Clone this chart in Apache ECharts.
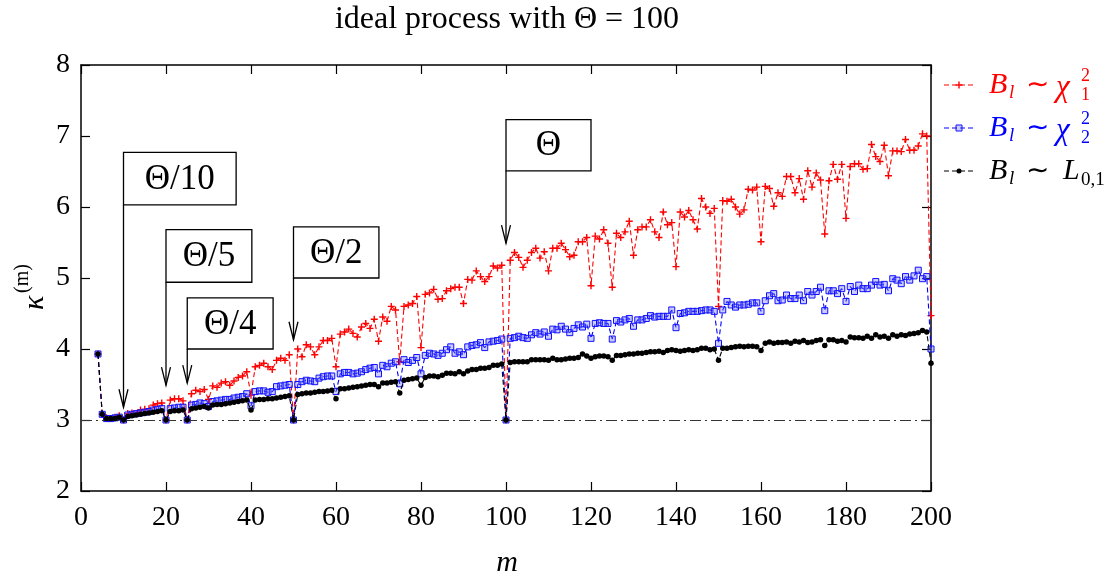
<!DOCTYPE html>
<html><head><meta charset="utf-8">
<script src="https://cdn.jsdelivr.net/npm/echarts@6/dist/echarts.min.js"></script>
<style>html,body{margin:0;padding:0;background:#fff}#c{width:1120px;height:582px}</style>
</head><body><div id="c"></div>
<script>
// m runs from 4 to 200
const M_START = 4;
const redVals = [
3.93,3.08,3.03,3.02,3.04,3.06,3.00,3.09,3.10,3.09,3.14,3.15,3.16,3.21,3.23,3.24,3.00,
3.28,3.30,3.30,3.27,3.00,3.37,3.42,3.40,3.43,3.29,3.48,3.46,3.52,3.54,3.49,3.55,3.60,3.62,3.68,3.35,
3.75,3.77,3.80,3.75,3.71,3.84,3.87,3.84,3.92,3.00,
4.00,3.89,4.06,4.03,3.92,4.03,4.12,4.12,4.15,3.75,
4.21,4.24,4.28,4.22,4.17,4.31,4.36,4.29,4.42,4.11,
4.45,4.39,4.60,4.55,3.82,4.60,4.62,4.64,4.74,4.02,
4.77,4.79,4.84,4.70,4.71,4.82,4.85,4.87,4.87,4.64,
4.98,4.97,5.10,5.02,4.95,5.02,5.17,5.14,5.18,3.00,
5.25,5.36,5.29,5.15,5.25,5.36,5.42,5.28,5.37,5.10,
5.42,5.42,5.49,5.40,5.30,5.32,5.51,5.51,5.57,4.89,
5.59,5.55,5.68,5.49,4.87,5.63,5.57,5.65,5.80,5.32,
5.68,5.72,5.72,5.82,5.65,5.57,5.93,5.75,5.78,5.16,
5.93,5.86,5.95,5.82,5.69,6.12,6.00,5.91,5.98,4.60,
6.09,6.08,6.11,6.00,5.90,5.96,6.25,6.24,6.28,5.51,
6.29,6.26,6.01,6.20,6.15,6.43,6.43,6.20,6.40,6.11,
6.51,6.28,6.48,6.38,5.62,6.37,6.60,6.39,6.60,5.84,
6.57,6.61,6.61,6.53,6.54,6.88,6.71,6.64,6.87,6.44,
6.79,6.79,6.78,6.95,6.80,6.80,6.86,7.03,7.00,4.47
];
const blueVals = [
3.93,3.08,3.02,3.02,3.03,3.04,3.00,3.07,3.08,3.09,3.10,3.11,3.12,3.14,3.15,3.16,3.00,
3.16,3.17,3.18,3.18,3.00,3.21,3.22,3.24,3.23,3.19,3.26,3.27,3.28,3.29,3.29,3.31,3.32,3.33,3.37,3.20,
3.40,3.41,3.41,3.39,3.40,3.47,3.48,3.49,3.50,3.00,
3.50,3.54,3.56,3.55,3.54,3.59,3.61,3.62,3.62,3.40,
3.65,3.67,3.67,3.65,3.66,3.68,3.71,3.73,3.74,3.65,
3.77,3.75,3.80,3.82,3.51,3.85,3.81,3.84,3.88,3.65,
3.91,3.94,3.93,3.91,3.94,3.99,4.03,3.94,3.96,3.92,
4.03,4.05,4.06,4.09,4.02,4.10,4.11,4.12,4.14,3.00,
4.15,4.16,4.18,4.16,4.15,4.20,4.23,4.21,4.24,4.18,
4.28,4.27,4.32,4.28,4.23,4.29,4.34,4.31,4.35,4.15,
4.36,4.37,4.36,4.36,4.14,4.40,4.38,4.41,4.43,4.32,
4.41,4.41,4.43,4.47,4.45,4.46,4.46,4.46,4.55,4.30,
4.50,4.51,4.53,4.53,4.53,4.54,4.55,4.55,4.53,4.08,
4.55,4.67,4.62,4.59,4.62,4.62,4.63,4.65,4.65,4.53,
4.68,4.75,4.78,4.68,4.69,4.76,4.71,4.71,4.76,4.68,
4.81,4.76,4.81,4.87,4.54,4.82,4.82,4.78,4.85,4.67,
4.88,4.81,4.90,4.85,4.85,4.90,4.95,4.90,4.91,4.82,
4.99,4.97,4.92,5.02,4.97,5.03,5.11,4.99,5.02,4.00
];
const blackVals = [
3.93,3.08,3.02,3.02,3.02,3.04,3.00,3.05,3.06,3.07,3.08,3.09,3.10,3.11,3.12,3.13,3.00,
3.12,3.13,3.13,3.14,3.00,3.16,3.17,3.18,3.19,3.17,3.21,3.22,3.22,3.23,3.24,3.25,3.26,3.27,3.28,3.14,
3.28,3.29,3.29,3.30,3.30,3.31,3.32,3.33,3.34,3.00,
3.36,3.37,3.38,3.38,3.39,3.40,3.40,3.41,3.42,3.30,
3.44,3.44,3.45,3.46,3.47,3.48,3.49,3.50,3.50,3.47,
3.52,3.52,3.53,3.54,3.38,3.56,3.57,3.58,3.59,3.49,
3.60,3.62,3.62,3.61,3.63,3.66,3.66,3.65,3.68,3.65,
3.69,3.71,3.71,3.73,3.73,3.74,3.77,3.77,3.79,3.00,
3.81,3.82,3.82,3.82,3.82,3.85,3.85,3.85,3.85,3.84,
3.87,3.85,3.85,3.86,3.87,3.87,3.88,3.93,3.90,3.87,
3.89,3.90,3.90,3.89,3.84,3.91,3.91,3.92,3.93,3.93,
3.94,3.94,3.95,3.96,3.96,3.97,3.95,3.98,3.99,3.98,
3.97,3.98,3.99,3.98,3.99,4.01,4.01,3.99,4.00,3.84,
4.01,4.01,4.02,4.03,4.04,4.03,4.04,4.04,4.03,3.98,
4.08,4.10,4.08,4.09,4.09,4.10,4.08,4.11,4.10,4.12,
4.09,4.10,4.12,4.13,4.05,4.13,4.13,4.11,4.12,4.10,
4.17,4.16,4.16,4.15,4.18,4.15,4.20,4.17,4.18,4.15,
4.20,4.18,4.20,4.19,4.21,4.22,4.23,4.26,4.24,3.80
];
const seriesNames = ['chi2_1', 'chi2_2', 'L01'];
const xTickInterval = 20;
const yTickInterval = 1;
// annotations: label, m position, arrow tip value, box top / bottom value, box right m
const annLabels = ['Θ/10', 'Θ/5', 'Θ/4', 'Θ/2', 'Θ'];
const annM      = [10, 20, 25, 50, 100];
const annTip    = [3.18, 3.49, 3.52, 4.13, 5.49];
const annTop    = [6.77, 5.68, 4.72, 5.72, 7.23];
const annBottom = [6.03, 4.94, 4.00, 5.00, 6.51];
const annRight  = [36.5, 40.2, 45.2, 70.1, 120];

const FONT = 'Liberation Serif';
const pairs = vals => vals.map((v, i) => [M_START + i, v]);
const PLUS = 'path://M4,0H6V4H10V6H6V10H4V6H0V4H4Z';

const chart = echarts.init(document.getElementById('c'), null, {renderer: 'canvas'});
const axisLine = {show: true, onZero: false, lineStyle: {color: '#000', width: 1.5}};
const tick = {show: true, inside: true, length: 9, lineStyle: {color: '#000', width: 1.2}};
const lbl = {fontFamily: FONT, fontSize: 28, color: '#000'};
const option = {
  animation: false,
  backgroundColor: '#fff',
  grid: {left: 81, right: 189, top: 65, bottom: 91, containLabel: false},
  xAxis: [
    {type: 'value', min: 0, max: 200, interval: xTickInterval, position: 'bottom',
     axisLine, axisTick: tick, axisLabel: Object.assign({margin: 13}, lbl), splitLine: {show: false}},
    {type: 'value', min: 0, max: 200, interval: xTickInterval, position: 'top',
     axisLine, axisTick: tick, axisLabel: {show: false}, splitLine: {show: false}}
  ],
  yAxis: [
    {type: 'value', min: 2, max: 8, interval: yTickInterval, position: 'left',
     axisLine, axisTick: tick, axisLabel: Object.assign({margin: 11}, lbl), splitLine: {show: false}},
    {type: 'value', min: 2, max: 8, interval: yTickInterval, position: 'right',
     axisLine, axisTick: tick, axisLabel: {show: false}, splitLine: {show: false}}
  ],
  series: [
    {name: seriesNames[0], type: 'line', data: pairs(redVals), z: 3,
     symbol: PLUS, symbolSize: 7, showAllSymbol: true,
     lineStyle: {color: '#ff0000', width: 1.1, type: [5, 3]},
     itemStyle: {color: '#ff0000'},
     markLine: {silent: true, symbol: 'none', label: {show: false},
       lineStyle: {color: '#333', width: 1, type: [11, 4, 2, 4]},
       data: [{yAxis: 3}]}},
    {name: seriesNames[1], type: 'line', data: pairs(blueVals), z: 4,
     symbol: 'rect', symbolSize: 6, showAllSymbol: true,
     lineStyle: {color: '#0000ff', width: 1.1, type: [5, 3]},
     itemStyle: {color: 'rgba(110,110,255,0.35)', borderColor: '#1010ff', borderWidth: 1}},
    {name: seriesNames[2], type: 'line', data: pairs(blackVals), z: 5,
     symbol: 'circle', symbolSize: 5.5, showAllSymbol: true,
     lineStyle: {color: '#000', width: 1.1, type: [5, 3]},
     itemStyle: {color: '#000'}}
  ]
};
chart.setOption(option);

const P = (x, y) => chart.convertToPixel({xAxisIndex: 0, yAxisIndex: 0}, [x, y]);
const g = [];
// title
g.push({type: 'text', x: 507, y: 20, z: 10,
  style: {text: 'ideal process with Θ = 100', font: '32px "' + FONT + '"', fill: '#000', textAlign: 'center', textVerticalAlign: 'middle'}});
// x axis name
g.push({type: 'text', x: 507, y: 563, z: 10,
  style: {text: 'm', font: 'italic 30px "' + FONT + '"', fill: '#000', textAlign: 'center', textVerticalAlign: 'middle'}});
// y axis name (rotated)
g.push({type: 'group', x: 35, y: 310, rotation: Math.PI / 2, z: 10, children: [
  {type: 'text', x: 0, y: 0, style: {text: 'κ', font: 'italic 30px "' + FONT + '"', fill: '#000', textAlign: 'left', textVerticalAlign: 'middle'}},
  {type: 'text', x: 17, y: -12, style: {text: '(m)', font: '20px "' + FONT + '"', fill: '#000', textAlign: 'left', textVerticalAlign: 'middle'}}
]});
// annotations
for (let i = 0; i < annLabels.length; i++) {
  const tl = P(annM[i], annTop[i]);
  const br = P(annRight[i], annBottom[i]);
  const tip = P(annM[i], annTip[i]);
  g.push({type: 'rect', z: 20, shape: {x: tl[0], y: tl[1], width: br[0] - tl[0], height: br[1] - tl[1]},
    style: {fill: '#fff', stroke: '#000', lineWidth: 1.3}});
  g.push({type: 'text', z: 21, x: (tl[0] + br[0]) / 2, y: (tl[1] + br[1]) / 2 + 1,
    style: {text: annLabels[i], font: '35px "' + FONT + '"', fill: '#000', textAlign: 'center', textVerticalAlign: 'middle'}});
  g.push({type: 'line', z: 20, shape: {x1: tl[0], y1: br[1], x2: tip[0], y2: tip[1]}, style: {stroke: '#000', lineWidth: 1.3}});
  g.push({type: 'polyline', z: 20, shape: {points: [[tip[0] - 4.5, tip[1] - 18], [tip[0], tip[1]], [tip[0] + 4.5, tip[1] - 18]]},
    style: {stroke: '#000', lineWidth: 1.3, fill: null}});
}
// legend
const legColors = ['#ff0000', '#0000ff', '#000000'];
const legY = [85, 128, 171];
const f = (s, it) => (it ? 'italic ' : '') + s + 'px "' + FONT + '"';
for (let i = 0; i < 3; i++) {
  const y = legY[i], c = legColors[i];
  g.push({type: 'line', z: 10, shape: {x1: 944, y1: y, x2: 974, y2: y}, style: {stroke: c, lineWidth: 1, lineDash: [5, 3]}});
  if (i === 0) {
    g.push({type: 'line', z: 11, shape: {x1: 955.5, y1: y, x2: 962.5, y2: y}, style: {stroke: c, lineWidth: 1.4}});
    g.push({type: 'line', z: 11, shape: {x1: 959, y1: y - 3.5, x2: 959, y2: y + 3.5}, style: {stroke: c, lineWidth: 1.4}});
  } else if (i === 1) {
    g.push({type: 'rect', z: 11, shape: {x: 956, y: y - 3, width: 6, height: 6}, style: {fill: 'rgba(110,110,255,0.35)', stroke: '#1010ff', lineWidth: 1}});
  } else {
    g.push({type: 'circle', z: 11, shape: {cx: 959, cy: y, r: 2.5}, style: {fill: '#000'}});
  }
  const T = (x, yy, text, size, it) => g.push({type: 'text', z: 12, x: x, y: yy,
    style: {text: text, font: f(size, it), fill: c, textAlign: 'left', textVerticalAlign: 'middle'}});
  T(989, y, 'B', 30, true);
  T(1009, y + 8, 'l', 19, true);
  T(1026, y + 1, '∼', 28, false);
  if (i < 2) {
    T(1056, y + 3, 'χ', 31, true);
    T(1081, y - 9, '2', 18, false);
    T(1081, y + 10, String(i + 1), 18, false);
  } else {
    T(1063, y, 'L', 30, true);
    T(1081, y + 9, '0,1', 19, false);
  }
}
chart.setOption({graphic: g});
</script>
</body></html>
